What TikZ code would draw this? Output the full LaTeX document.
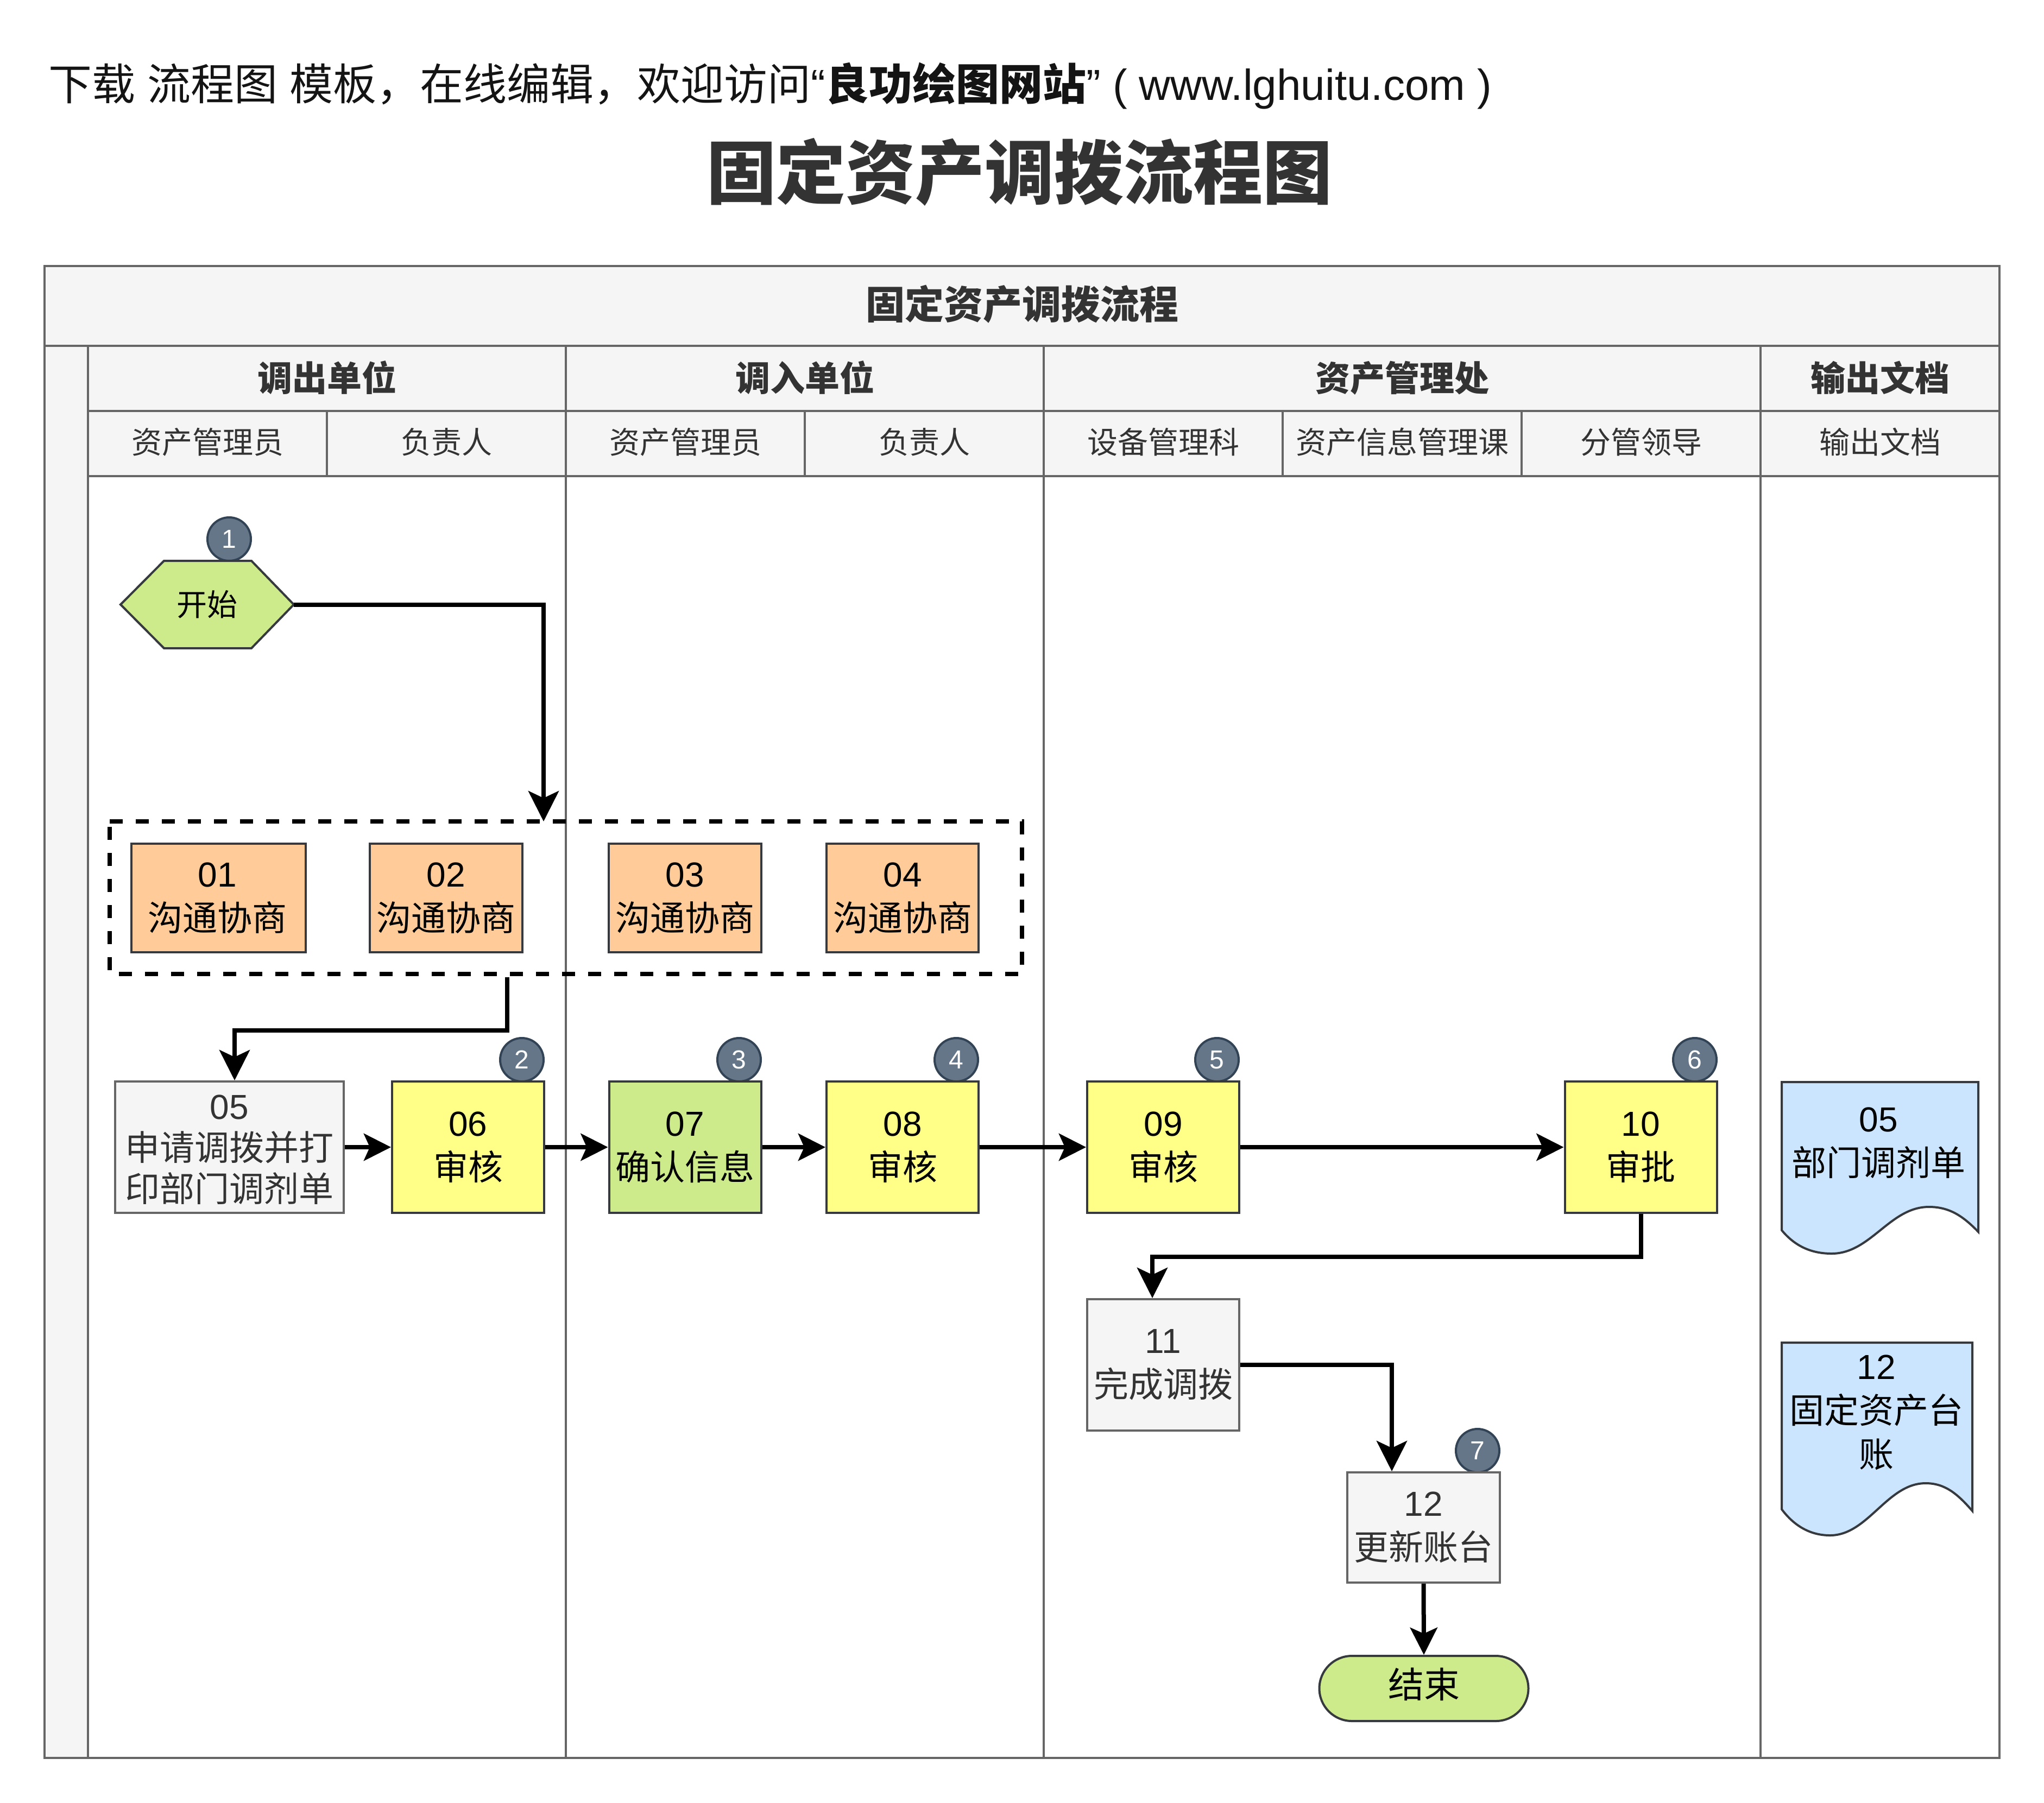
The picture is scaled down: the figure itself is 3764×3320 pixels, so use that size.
\documentclass[tikz,border=0pt]{standalone}
\usepackage{fontspec}
\setmainfont{Noto Sans CJK SC}
\newfontfamily\lat{Liberation Sans}
\usetikzlibrary{arrows.meta,shapes.misc}
\definecolor{lanefill}{HTML}{F5F5F5}
\definecolor{lanedraw}{HTML}{666666}
\definecolor{txt}{HTML}{333333}
\definecolor{dark}{HTML}{36393D}
\definecolor{greenf}{HTML}{CDEB8B}
\definecolor{orangef}{HTML}{FFCC99}
\definecolor{yellowf}{HTML}{FFFF88}
\definecolor{bluef}{HTML}{CCE5FF}
\definecolor{badgef}{HTML}{647687}
\definecolor{badged}{HTML}{314354}
\tikzset{
  lane/.style={draw=lanedraw,fill=lanefill,line width=4pt,inner sep=0pt,text=txt,align=center},
  laneB/.style={lane,minimum width=#1,minimum height=120pt,text height=56pt,text depth=10pt,font=\fontsize{64}{77}\selectfont\bfseries},
  laneS/.style={lane,minimum width=#1,minimum height=120pt,text height=49pt,text depth=12pt,font=\fontsize{56}{67}\selectfont},
  body/.style={draw=lanedraw,fill=white,line width=4pt,inner sep=0pt,minimum width=#1,minimum height=2361pt},
  boxbase/.style={line width=4pt,inner sep=0pt,align=center,font=\fontsize{64}{81}\selectfont},
  orangebox/.style={boxbase,draw=dark,fill=orangef,text=black},
  yellowbox/.style={boxbase,draw=dark,fill=yellowf,text=black,minimum width=280pt,minimum height=242pt},
  greenbox/.style={boxbase,draw=dark,fill=greenf,text=black,minimum width=280pt,minimum height=242pt},
  graybox/.style={boxbase,draw=lanedraw,fill=lanefill,text=txt},
  docshape/.style={draw=dark,fill=bluef,line width=4pt,line join=miter},
  doctext/.style={boxbase,text=black},
  badge/.style={circle,draw=badged,fill=badgef,line width=4pt,inner sep=0pt,minimum size=80pt,text=white,font=\fontsize{48}{58}\selectfont\lat},
  bigarrow/.style={draw=black,line width=8pt,-{Stealth[length=56pt,width=56pt,inset=13pt]}},
  smallarrow/.style={draw=black,line width=8pt,-{Stealth[length=50pt,width=50pt,inset=11pt]}},
}
\begin{document}
\begin{tikzpicture}[x=1pt,y=-1pt]
\useasboundingbox (0,0) rectangle (3764,3320);
% heading
\node[anchor=west,inner sep=0pt,font=\fontsize{80}{96}\selectfont,text=txt!40!black] (top) at (89,158)
 {下载{\lat\ }流程图{\lat\ }模板，在线编辑，欢迎访问{\lat “}\textbf{良功绘图网站}{\lat ” ( www.lghuitu.com )}};
\node[inner sep=0pt,font=\fontsize{128}{150}\selectfont\bfseries,text=txt] (title) at (1877,317) {固定资产调拨流程图};
% swimlane frame
\node[lane,minimum width=3600pt,minimum height=147pt,text height=63pt,text depth=15pt,font=\fontsize{72}{86}\selectfont\bfseries] (pool) at (1882,563.5) {固定资产调拨流程};
\node[lane,minimum width=80pt,minimum height=2601pt] (strip) at (122,1937.5) {};
\node[body=880pt] (bodyA) at (602,2057.5) {};
\node[body=880pt] (bodyB) at (1482,2057.5) {};
\node[body=1320pt] (bodyC) at (2582,2057.5) {};
\node[body=440pt] (bodyD) at (3462,2057.5) {};
\node[laneB=880pt] (laneA) at (602,697) {调出单位};
\node[laneB=880pt] (laneB) at (1482,697) {调入单位};
\node[laneB=1320pt] (laneC) at (2582,697) {资产管理处};
\node[laneB=440pt] (laneD) at (3462,697) {输出文档};
\node[laneS=440pt] (s1) at (382,817) {资产管理员};
\node[laneS=440pt] (s2) at (822,817) {负责人};
\node[laneS=440pt] (s3) at (1262,817) {资产管理员};
\node[laneS=440pt] (s4) at (1702,817) {负责人};
\node[laneS=440pt] (s5) at (2142,817) {设备管理科};
\node[laneS=440pt] (s6) at (2582,817) {资产信息管理课};
\node[laneS=440pt] (s7) at (3022,817) {分管领导};
\node[laneS=440pt] (s8) at (3462,817) {输出文档};
% badges
\node[badge] (n1) at (422,993) {1};
\node[badge] (n2) at (961,1952) {2};
\node[badge] (n3) at (1361,1952) {3};
\node[badge] (n4) at (1761,1952) {4};
\node[badge] (n5) at (2241,1952) {5};
\node[badge] (n6) at (3121,1952) {6};
\node[badge] (n7) at (2721,2672) {7};
% start hexagon
\draw[draw=dark,fill=greenf,line width=4pt] (302,1033) -- (463,1033) -- (541,1113.5) -- (463,1194) -- (302,1194) -- (222,1113.5) -- cycle;
\node[inner sep=0pt,minimum width=320pt,minimum height=161pt,font=\fontsize{56}{67}\selectfont,text=black] (start) at (381,1113.5) {开始};
% dashed group
\draw[black,line width=8pt,dash pattern=on 24pt off 24pt] (202,1513) -- (1882,1513) -- (1882,1794) -- (202,1794) -- cycle;
\node[inner sep=0pt,minimum width=1680pt,minimum height=281pt] (group) at (1042,1653.5) {};
% boxes
\node[orangebox,minimum width=321pt,minimum height=200pt] (b01) at (402.5,1654) {{\lat 01}\hspace*{4pt}\\沟通协商\hspace*{4pt}};
\node[orangebox,minimum width=281pt,minimum height=200pt] (b02) at (821.5,1654) {{\lat 02}\\沟通协商};
\node[orangebox,minimum width=281pt,minimum height=200pt] (b03) at (1261.5,1654) {{\lat 03}\\沟通协商};
\node[orangebox,minimum width=280pt,minimum height=200pt] (b04) at (1662,1654) {{\lat 04}\\沟通协商};
\node[graybox,minimum width=421pt,minimum height=242pt,font=\fontsize{64}{76}\selectfont] (b05) at (422.5,2113) {\rule{0pt}{54pt}{\lat 05}\\申请调拨并打\\印部门调剂单};
\node[yellowbox] (b06) at (862,2113) {{\lat 06}\\审核};
\node[greenbox] (b07) at (1261.5,2113) {{\lat 07}\\确认信息};
\node[yellowbox] (b08) at (1662,2113) {{\lat 08}\\审核};
\node[yellowbox] (b09) at (2142,2113) {{\lat 09}\\审核};
\node[yellowbox] (b10) at (3021.5,2113) {{\lat 10}\\审批};
\node[graybox,minimum width=280pt,minimum height=242pt] (b11) at (2142,2514) {{\lat 11}\\完成调拨};
\node[graybox,minimum width=281pt,minimum height=203pt] (b12) at (2621.5,2813.5) {{\lat 12}\\更新账台};
\node[boxbase,rounded rectangle,draw=dark,fill=greenf,text=black,minimum width=385pt,minimum height=120pt,text height=58pt,text depth=24pt,font=\fontsize{66}{80}\selectfont] (finish) at (2622,3110) {结束};
% output documents
\draw[docshape] (3281,1993) -- (3643,1993) -- (3643,2269) .. controls (3615,2240) and (3590,2223) .. (3552,2223) .. controls (3480,2223) and (3445,2309) .. (3373,2309) .. controls (3335,2309) and (3305,2295) .. (3281,2266) -- cycle;
\node[doctext] (d05) at (3459,2105) {{\lat 05}\\部门调剂单};
\draw[docshape] (3281,2473) -- (3632,2473) -- (3632,2783) .. controls (3605,2752) and (3582,2732) .. (3546,2732) .. controls (3475,2732) and (3440,2828) .. (3370,2828) .. controls (3335,2828) and (3305,2812) .. (3281,2780) -- cycle;
\node[doctext] (d12) at (3455,2602) {{\lat 12}\\固定资产台\\账};
% connector ends
\coordinate (g1) at (1001,1513);
\coordinate (g2) at (934,1800);
\coordinate (c05) at (432,1990);
\coordinate (c11) at (2122,2391);
\coordinate (c12) at (2563,2710);
% connectors
\draw[bigarrow] (start.east) -| (g1);
\draw[bigarrow] (g2) -- ++(0,98) -| (c05);
\draw[smallarrow] (b05.east) -- (b06.west);
\draw[smallarrow] (b06.east) -- (b07.west);
\draw[smallarrow] (b07.east) -- (b08.west);
\draw[smallarrow] (b08.east) -- (b09.west);
\draw[smallarrow] (b09.east) -- (b10.west);
\draw[bigarrow] (b10.south) -- ++(0,79) -| (c11);
\draw[bigarrow] (b11.east) -| (c12);
\draw[smallarrow] (b12.south) -- (finish.north);
\end{tikzpicture}
\end{document}
